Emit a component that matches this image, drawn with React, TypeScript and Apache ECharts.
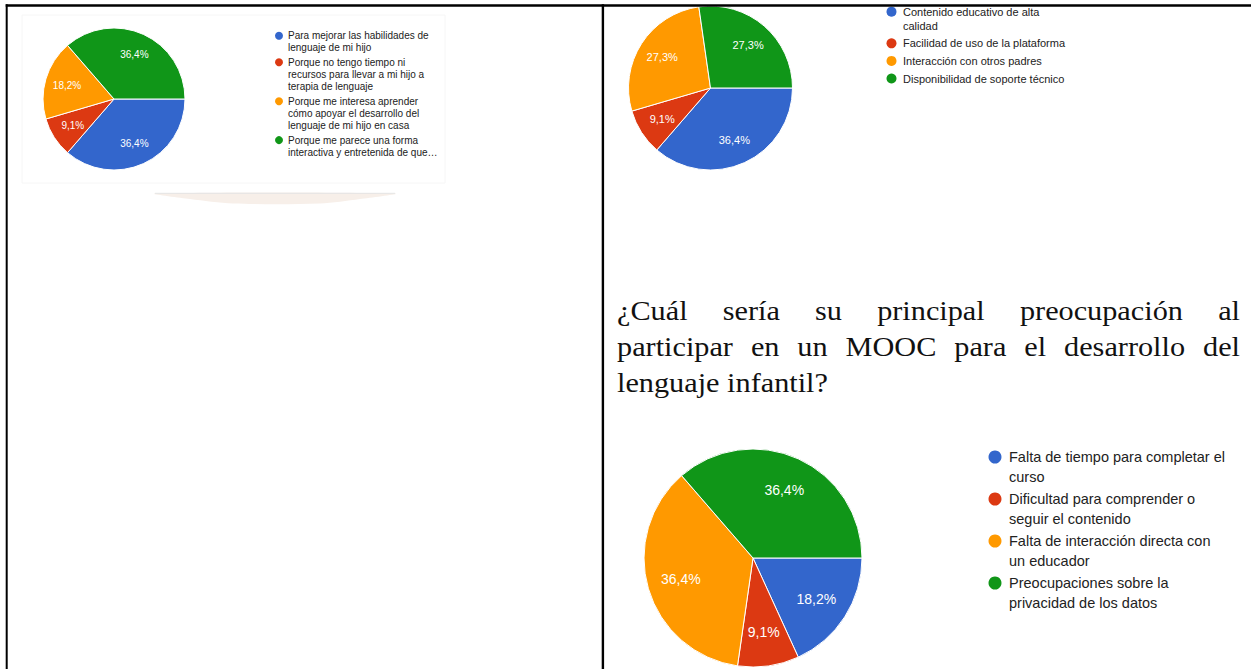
import React, { useEffect, useRef } from "react";
import * as echarts from "echarts";

// ---------- data ----------
const COLORS = ["#3366cc", "#dc3912", "#ff9900", "#109618"];

const CATEGORIES_1 = [
  "Para mejorar las habilidades de\nlenguaje de mi hijo",
  "Porque no tengo tiempo ni\nrecursos para llevar a mi hijo a\nterapia de lenguaje",
  "Porque me interesa aprender\ncómo apoyar el desarrollo del\nlenguaje de mi hijo en casa",
  "Porque me parece una forma\ninteractiva y entretenida de que…",
];
const VALUES_1 = [4, 1, 2, 4];

const CATEGORIES_2 = [
  "Contenido educativo de alta\ncalidad",
  "Facilidad de uso de la plataforma",
  "Interacción con otros padres",
  "Disponibilidad de soporte técnico",
];
const VALUES_2 = [4, 1, 3, 3];

const CATEGORIES_3 = [
  "Falta de tiempo para completar el\ncurso",
  "Dificultad para comprender o\nseguir el contenido",
  "Falta de interacción directa con\nun educador",
  "Preocupaciones sobre la\nprivacidad de los datos",
];
const VALUES_3 = [2, 1, 4, 4];

const HEADING_LINES = [
  "¿Cuál sería su principal preocupación al",
  "participar en un MOOC para el desarrollo del",
  "lenguaje infantil?",
];

// ---------- layout ----------
const SANS = "'Liberation Sans', Arial, sans-serif";
const SERIF = "'Liberation Serif', 'Times New Roman', serif";

const PIES = [
  {
    cats: CATEGORIES_1, values: VALUES_1,
    cx: 114, cy: 99, r: 71, labelSize: 10, labelK: 0.69,
    legend: { dotX: 279, dotR: 4, textX: 288, y0: 35.7, lh: 12.3, gap: 2, fontSize: 10 },
  },
  {
    cats: CATEGORIES_2, values: VALUES_2,
    cx: 710.5, cy: 88, r: 82, labelSize: 11, labelK: 0.7,
    legend: { dotX: 891.5, dotR: 5, textX: 903, y0: 11.7, lh: 14, gap: 3.6, fontSize: 11 },
  },
  {
    cats: CATEGORIES_3, values: VALUES_3,
    cx: 753, cy: 558, r: 109, labelSize: 14, labelK: 0.69,
    legend: { dotX: 995, dotR: 6.5, textX: 1009, y0: 457, lh: 19.5, gap: 3, fontSize: 14.5 },
  },
];

const HEAD = { left: 617, right: 1240, fontSize: 27, baselines: [320, 356, 392], lastLineWidth: 211 };

function fmtPct(v: number, total: number) {
  return ((v / total) * 100).toFixed(1).replace(".", ",") + "%";
}

function buildHeading(): any[] {
  const canvas = document.createElement("canvas");
  const ctx = canvas.getContext("2d")!;
  ctx.font = `${HEAD.fontSize}px ${SERIF}`;
  const sx = HEAD.lastLineWidth / ctx.measureText(HEADING_LINES[2]).width;
  const els: any[] = [];
  HEADING_LINES.forEach((line, li) => {
    const y = HEAD.baselines[li] - 0.3375 * HEAD.fontSize;
    const justify = li < HEADING_LINES.length - 1;
    const words = line.split(" ");
    const widths = words.map((w) => ctx.measureText(w).width * sx);
    const spaceW = ctx.measureText(" ").width * sx;
    const sum = widths.reduce((a, b) => a + b, 0);
    const gap = justify ? (HEAD.right - HEAD.left - sum) / (words.length - 1) : spaceW;
    let x = HEAD.left;
    words.forEach((w, i) => {
      els.push({
        type: "text",
        x, y, scaleX: sx, scaleY: 1, z: 50,
        style: { text: w, font: `${HEAD.fontSize}px ${SERIF}`, fill: "#111", align: "left", verticalAlign: "middle" },
      });
      x += widths[i] + gap;
    });
  });
  return els;
}

function buildLegends(): any[] {
  const els: any[] = [];
  PIES.forEach((p) => {
    const L = p.legend;
    let y = L.y0;
    p.cats.forEach((c, i) => {
      const n = c.split("\n").length;
      els.push({ type: "circle", z: 50, shape: { cx: L.dotX, cy: y, r: L.dotR }, style: { fill: COLORS[i] } });
      els.push({
        type: "text", z: 50, x: L.textX, y: y - L.lh / 2,
        style: { text: c, fontSize: L.fontSize, fontFamily: SANS, fill: "#222", lineHeight: L.lh, align: "left", verticalAlign: "top" },
      });
      y += n * L.lh + L.gap;
    });
  });
  return els;
}

function buildOption(): any {
  const series = PIES.map((p) => {
    const total = p.values.reduce((a, b) => a + b, 0);
    return {
      type: "pie",
      center: [p.cx, p.cy],
      radius: p.r,
      startAngle: 0,
      clockwise: true,
      avoidLabelOverlap: false,
      silent: true,
      z: 5,
      itemStyle: { borderColor: "#ffffff", borderWidth: 1 },
      label: {
        show: true,
        position: "inside",
        color: "#ffffff",
        fontSize: p.labelSize,
        fontFamily: SANS,
        formatter: (q: any) => fmtPct(q.value, total),
      },
      labelLine: { show: false },
      labelLayout: (q: any) => {
        let cum = 0;
        for (let j = 0; j < q.dataIndex; j++) cum += p.values[j];
        const a = ((cum + p.values[q.dataIndex] / 2) / total) * 2 * Math.PI;
        return {
          x: p.cx + p.labelK * p.r * Math.cos(a),
          y: p.cy + p.labelK * p.r * Math.sin(a),
          align: "center",
          verticalAlign: "middle",
        };
      },
      emphasis: { disabled: true },
      data: p.values.map((v, i) => ({
        name: p.cats[i].replace(/\n/g, " "),
        value: v,
        itemStyle: { color: COLORS[i] },
      })),
    };
  });

  const decor: any[] = [
    { type: "rect", z: 1, shape: { x: 22, y: 15, width: 423, height: 168 }, style: { fill: "none", stroke: "#f6f6f6", lineWidth: 1 } },
    {
      type: "polygon", z: 1,
      shape: { points: [[155, 193.5], [395, 193.5], [360, 199], [320, 203.5], [233, 203.5], [190, 199]], smooth: 0.3 },
      style: { fill: "#f7efe9" },
    },
    { type: "line", z: 1, shape: { x1: 155, y1: 193.3, x2: 395, y2: 193.3 }, style: { stroke: "#e4e4e4", lineWidth: 1 } },
    // table borders
    { type: "line", z: 100, shape: { x1: 5.7, y1: 5.5, x2: 1251, y2: 5.5 }, style: { stroke: "#000", lineWidth: 2.6 } },
    { type: "line", z: 100, shape: { x1: 6.7, y1: 4.2, x2: 6.7, y2: 669 }, style: { stroke: "#000", lineWidth: 2 } },
    { type: "line", z: 100, shape: { x1: 602.9, y1: 4.2, x2: 602.9, y2: 669 }, style: { stroke: "#000", lineWidth: 2.4 } },
  ];

  return {
    animation: false,
    backgroundColor: "#ffffff",
    series,
    graphic: { elements: [...decor, ...buildLegends(), ...buildHeading()] },
  };
}

export default function App() {
  const ref = useRef<HTMLDivElement>(null);
  useEffect(() => {
    const chart = echarts.init(ref.current!, null, { renderer: "svg" });
    chart.setOption(buildOption());
    return () => chart.dispose();
  }, []);
  return (
    <div
      ref={ref}
      style={{ position: "absolute", left: 0, top: 0, width: 1251, height: 669, background: "#fff" }}
    />
  );
}
